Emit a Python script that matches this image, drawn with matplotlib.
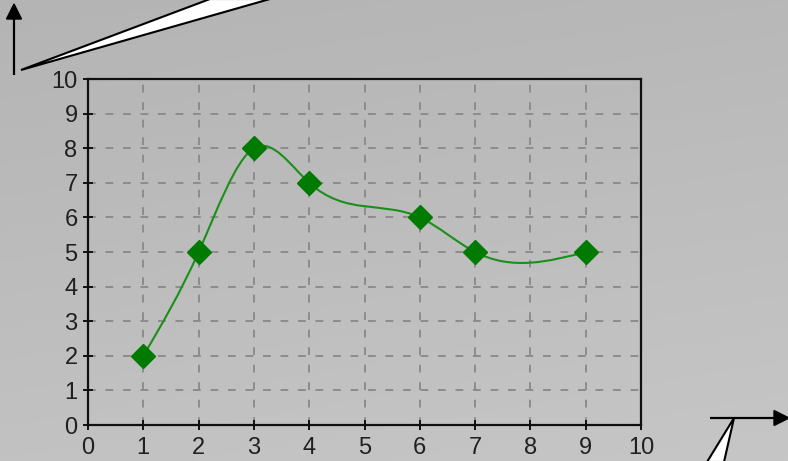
import numpy as np
import matplotlib
matplotlib.use("Agg")
import matplotlib.pyplot as plt
from matplotlib.path import Path
from matplotlib.patches import PathPatch, Polygon

# data points
x_vals = [1, 2, 3, 4, 6, 7, 9]
y_vals = [2, 5, 8, 7, 6, 5, 5]
ticks = list(range(0, 11))

plt.rcParams["font.family"] = ["Liberation Sans", "DejaVu Sans"]

W, H = 788, 461
fig = plt.figure(figsize=(W / 100, H / 100), dpi=100)

# background overlay in pixel coords (gradient + decorations)
bg = fig.add_axes([0, 0, 1, 1], zorder=0)
bg.set_xlim(0, W)
bg.set_ylim(H, 0)
bg.axis("off")
gx, gy = np.meshgrid(np.linspace(0, 1, 200), np.linspace(0, 1, 120))
shade = (180 + 14 * gy + 4 * gx) / 255.0
bg.imshow(np.dstack([shade, shade, shade]), extent=[0, W, H, 0], aspect="auto", zorder=0)

# callout wedges
bg.add_patch(Polygon([(21, 70), (210, -1), (270, -1)], closed=True, facecolor="white",
                     edgecolor="black", lw=1.5, zorder=2))
bg.add_patch(Polygon([(734, 418), (707, 462), (724, 462)], closed=True, facecolor="white",
                     edgecolor="black", lw=1.5, zorder=2))
# arrows
bg.plot([14, 14], [75, 16], color="black", lw=1.6, zorder=3, solid_capstyle="butt")
bg.add_patch(Polygon([(14, 4), (6.5, 19), (21.5, 19)], closed=True, color="black", zorder=3))
bg.plot([710, 776], [418, 418], color="black", lw=1.6, zorder=3, solid_capstyle="butt")
bg.add_patch(Polygon([(789, 418), (774, 410.5), (774, 425.5)], closed=True, color="black", zorder=3))

ax = fig.add_axes([88 / W, 1 - 425 / H, (641 - 88) / W, (425 - 79) / H], zorder=1)
ax.set_facecolor("none")
ax.set_xlim(0, 10)
ax.set_ylim(0, 10)
ax.set_xticks(ticks)
ax.set_yticks(ticks)
ax.grid(True, color="#8c8c8c", lw=1.4, linestyle=(0, (4, 5)))
ax.set_axisbelow(True)
for s in ax.spines.values():
    s.set_linewidth(1.6)
    s.set_color("#101010")
ax.tick_params(direction="inout", length=7, width=1.4, colors="#101010",
               labelsize=17, labelcolor="#202020")
ax.tick_params(axis="x", pad=5)
ax.tick_params(axis="y", pad=4)

# natural cubic spline through the points, drawn as bezier segments
xs = np.array(x_vals, float)
ys = np.array(y_vals, float)
n = len(xs)
h = np.diff(xs)
d = np.diff(ys) / h
A = np.zeros((n, n))
b = np.zeros(n)
A[0, 0] = A[-1, -1] = 1
for i in range(1, n - 1):
    A[i, i - 1] = h[i - 1]
    A[i, i] = 2 * (h[i - 1] + h[i])
    A[i, i + 1] = h[i]
    b[i] = 6 * (d[i] - d[i - 1])
M = np.linalg.solve(A, b)
verts = [(xs[0], ys[0])]
codes = [Path.MOVETO]
for i in range(n - 1):
    s0 = d[i] - h[i] * (2 * M[i] + M[i + 1]) / 6
    s1 = d[i] + h[i] * (M[i] + 2 * M[i + 1]) / 6
    verts += [(xs[i] + h[i] / 3, ys[i] + s0 * h[i] / 3),
              (xs[i + 1] - h[i] / 3, ys[i + 1] - s1 * h[i] / 3),
              (xs[i + 1], ys[i + 1])]
    codes += [Path.CURVE4] * 3
ax.add_patch(PathPatch(Path(verts, codes), facecolor="none", edgecolor="#1a8f1a", lw=1.5, zorder=3))
ax.plot(x_vals, y_vals, linestyle="none", marker="D", markersize=12,
        color="#007a00", markeredgecolor="#007a00", zorder=4)

fig.savefig("out.png", dpi=100)
